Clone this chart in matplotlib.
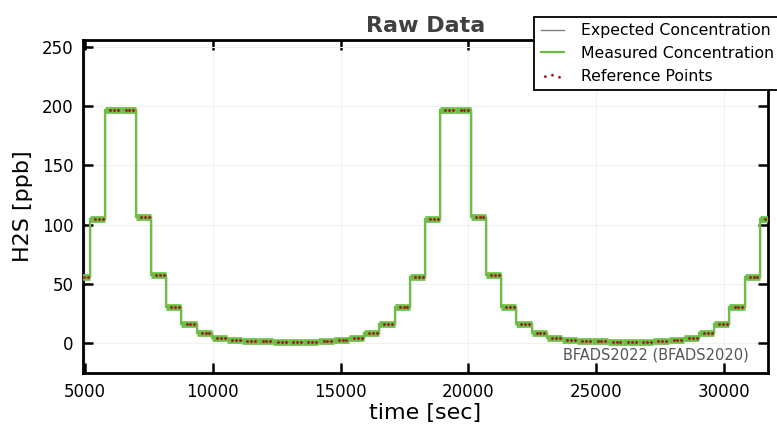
import numpy as np
import matplotlib
matplotlib.use("Agg")
import matplotlib.pyplot as plt

# step start times [sec] and concentration levels [ppb]
step_start = [4598, 5194, 5790, 6386, 6982, 7578, 8174, 8770, 9366, 9962,
              10558, 11154, 11750, 12346, 12942, 13538, 14134, 14730, 15326, 15922,
              16518, 17114, 17710, 18306, 18900, 19496, 20092, 20688, 21284, 21880,
              22476, 23072, 23668, 24264, 24860, 25456, 26052, 26648, 27244, 27840,
              28436, 29032, 29628, 30224, 30820, 31416]
step_end = 32012
expected = [56, 105, 197, 197, 106, 57, 30, 16, 8.5, 4.5,
            2.8, 1.9, 1.4, 1.0, 0.8, 0.9, 1.3, 2.8, 4.5, 8.5,
            16, 30, 56, 105, 197, 197, 106, 57, 30, 16,
            8.5, 4.5, 2.8, 1.9, 1.4, 1.0, 0.8, 0.9, 1.3, 2.8,
            4.5, 8.5, 16, 30, 56, 105]
measured = [56, 105, 197, 197, 106, 57, 30, 16, 8.5, 4.5,
            2.8, 1.9, 1.4, 1.0, 0.8, 0.9, 1.3, 2.8, 4.5, 8.5,
            16, 30, 56, 105, 197, 197, 106, 57, 30, 16,
            8.5, 4.5, 2.8, 1.9, 1.4, 1.0, 0.8, 0.9, 1.3, 2.8,
            4.5, 8.5, 16, 30, 56, 105]
# reference samples taken inside each step (seconds after step start)
ref_offsets = [200, 350, 500]

xticks = [5000, 10000, 15000, 20000, 25000, 30000]
yticks = [0, 50, 100, 150, 200, 250]

green = '#6cbe45'
edges = np.array(step_start + [step_end])
starts = edges[:-1]
ends = edges[1:]

ref_t = np.concatenate([starts + o for o in ref_offsets])
ref_v = np.concatenate([np.array(expected) for o in ref_offsets])

plt.rcParams['font.family'] = 'DejaVu Sans'
fig = plt.figure(figsize=(7.77, 4.30), dpi=100)
ax = fig.add_axes([0.107, 0.1326, 0.881, 0.7744])

ax.stairs(expected, edges, baseline=None, color='#808080', lw=1.0,
          label='Expected Concentration', zorder=2)
ax.stairs(measured, edges, baseline=None, color=green, lw=1.6,
          label='Measured Concentration', zorder=3)
ax.hlines(measured, starts, ends, color=green, lw=4.8, zorder=3)
ax.scatter(ref_t, ref_v, s=4, color='#a0141e', zorder=4,
           label='Reference Points', linewidths=0)

ax.set_xlim(4922, 31721)
ax.set_ylim(-25.4, 256)
ax.set_xticks(xticks)
ax.set_yticks(yticks)
ax.grid(True, color='#f0f0f0', lw=0.8, zorder=0)
ax.set_axisbelow(True)
for s in ax.spines.values():
    s.set_linewidth(2)
ax.tick_params(direction='in', length=7, width=1.8, top=True, right=True,
               labelsize=12, pad=7)

ax.set_xlabel('time [sec]', fontsize=16, labelpad=2)
ax.set_ylabel('H2S [ppb]', fontsize=16, labelpad=6)
ax.set_title('Raw Data', fontsize=16, fontweight='bold', color='#404040', pad=6)

ax.text(0.972, 0.054, 'BFADS2022 (BFADS2020)', transform=ax.transAxes,
        ha='right', va='center', fontsize=10.5, color='#555555')

leg = fig.legend(loc='upper right', bbox_to_anchor=(1.005, 0.961),
                 bbox_transform=fig.transFigure, fontsize=11.3,
                 frameon=True, fancybox=False, edgecolor='black',
                 framealpha=1, scatterpoints=3, handlelength=1.5,
                 borderpad=0.4, labelspacing=0.5, handletextpad=1.1,
                 borderaxespad=0)
leg.get_frame().set_linewidth(1.3)

fig.savefig('out.png', dpi=100)
